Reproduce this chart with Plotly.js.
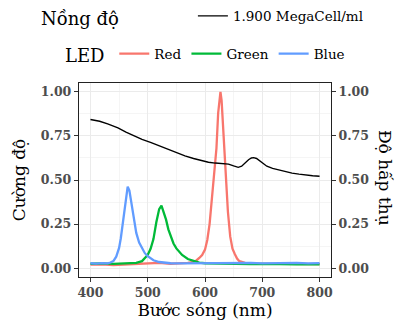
<!DOCTYPE html>
<html>
<head>
<meta charset="utf-8">
<script src="https://cdn.plot.ly/plotly-3.0.1.min.js"></script>
<style>html,body{margin:0;padding:0;background:#fff;}#chart{width:395px;height:322px;}</style>
</head>
<body>
<div id="chart"></div>
<script>
// ---- Data ----
const blueWl = [400,410,420,430,435,440,445,450,453,456,459,462,465,468,471,474,477,480,485,490,495,500,510,520,530,540,560,580,600,620,640,660,680,700,720,740,760,780,800];
const blueVal = [0.028,0.026,0.029,0.027,0.032,0.040,0.065,0.115,0.170,0.245,0.330,0.410,0.462,0.440,0.375,0.305,0.245,0.200,0.145,0.110,0.085,0.068,0.045,0.035,0.030,0.028,0.027,0.028,0.026,0.029,0.027,0.028,0.030,0.027,0.029,0.028,0.030,0.027,0.029];

const greenWl = [400,420,440,460,470,480,490,495,500,505,510,515,520,524,528,532,536,540,545,550,560,570,580,590,600,620,640,660,680,700,720,740,760,780,800];
const greenVal = [0.025,0.027,0.024,0.026,0.025,0.030,0.040,0.055,0.075,0.110,0.165,0.260,0.335,0.355,0.320,0.275,0.220,0.180,0.140,0.112,0.075,0.052,0.040,0.032,0.028,0.026,0.024,0.025,0.023,0.024,0.022,0.023,0.022,0.023,0.022];

const redWl = [400,420,440,460,480,500,510,520,540,560,570,580,585,590,595,600,604,608,612,616,620,623,626,627,629,631,633,636,640,644,648,652,656,660,670,680,700,720,740,760,780,800];
const redVal = [0.020,0.022,0.018,0.021,0.024,0.030,0.032,0.030,0.025,0.027,0.030,0.036,0.044,0.058,0.075,0.105,0.160,0.250,0.390,0.520,0.680,0.880,0.970,1.000,0.950,0.840,0.700,0.520,0.320,0.180,0.110,0.080,0.055,0.040,0.030,0.026,0.025,0.024,0.025,0.023,0.024,0.023];

const absWl = [400,416,430,448,462,477,490,506,520,536,550,565,580,594,606,618,630,641,650,658,664,670,676,681,685,690,694,700,708,718,729,740,752,764,775,788,800];
const absVal = [0.843,0.833,0.818,0.796,0.772,0.749,0.730,0.712,0.694,0.674,0.656,0.637,0.622,0.609,0.601,0.596,0.593,0.590,0.580,0.572,0.578,0.598,0.615,0.625,0.627,0.622,0.612,0.596,0.578,0.566,0.556,0.547,0.539,0.533,0.528,0.524,0.521];

const xTicks = [400,500,600,700,800];
const yTicks = [0,0.25,0.5,0.75,1];
const yTickText = ['0.00','0.25','0.50','0.75','1.00'];
const ledNames = ['Red','Green','Blue'];
const absName = '1.900 MegaCell/ml';

// ---- Styles ----
const FONT = 'DejaVu Serif, Liberation Serif, serif';
const tickFont = {family: FONT, size: 12.5, color: '#4D4D4D', weight: 'bold'};
const gridC = '#EBEBEB';

const traces = [
  {x: redWl, y: redVal, name: ledNames[0], type: 'scatter', mode: 'lines', line: {color: '#F8766D', width: 2.3}, legend: 'legend2'},
  {x: greenWl, y: greenVal, name: ledNames[1], type: 'scatter', mode: 'lines', line: {color: '#00BA38', width: 2.3}, legend: 'legend2'},
  {x: blueWl, y: blueVal, name: ledNames[2], type: 'scatter', mode: 'lines', line: {color: '#619CFF', width: 2.3}, legend: 'legend2'},
  {x: absWl, y: absVal, name: absName, type: 'scatter', mode: 'lines', line: {color: '#000000', width: 1.4}, yaxis: 'y2', legend: 'legend'}
];

const layout = {
  width: 395, height: 322,
  margin: {l: 79, r: 64, t: 83, b: 45, autoexpand: false},
  paper_bgcolor: '#fff', plot_bgcolor: '#fff',
  font: {family: FONT, color: '#000'},
  showlegend: true,
  xaxis: {
    range: [380, 820], tickvals: xTicks, ticktext: xTicks.map(String),
    ticks: 'outside', ticklen: 4, tickcolor: '#333', tickwidth: 1,
    showline: true, mirror: true, linecolor: '#222', linewidth: 1.2,
    showgrid: true, gridcolor: gridC, gridwidth: 1, zeroline: false,
    minor: {dtick: 50, tick0: 0, showgrid: true, gridcolor: gridC, gridwidth: 0.5, ticks: ''},
    tickfont: tickFont,
    title: {text: 'Bước sóng (nm)', font: {family: FONT, size: 17, color: '#000'}, standoff: 3}
  },
  yaxis: {
    range: [-0.05, 1.05], tickvals: yTicks, ticktext: yTickText,
    ticks: 'outside', ticklen: 4, tickcolor: '#333', tickwidth: 1,
    showline: true, mirror: true, linecolor: '#222', linewidth: 1.2,
    showgrid: true, gridcolor: gridC, gridwidth: 1, zeroline: false,
    minor: {dtick: 0.125, tick0: 0, showgrid: true, gridcolor: gridC, gridwidth: 0.5, ticks: ''},
    tickfont: tickFont,
    title: {text: 'Cường độ', font: {family: FONT, size: 17, color: '#000'}, standoff: 10}
  },
  yaxis2: {
    overlaying: 'y', side: 'right', anchor: 'x',
    range: [-0.05, 1.05], tickvals: yTicks, ticktext: yTickText,
    ticks: 'outside', ticklen: 4, tickcolor: '#333', tickwidth: 1,
    showline: false, showgrid: false, zeroline: false,
    tickfont: tickFont
  },
  legend: {
    orientation: 'h', x: 0.452, xanchor: 'left', y: 1.345, yanchor: 'middle',
    font: {family: FONT, size: 13.5, color: '#000'}, bgcolor: 'rgba(0,0,0,0)',
    itemwidth: 30
  },
  legend2: {
    orientation: 'h', x: 0.14, xanchor: 'left', y: 1.15, yanchor: 'middle',
    font: {family: FONT, size: 13.5, color: '#000'}, bgcolor: 'rgba(0,0,0,0)',
    itemwidth: 30, traceorder: 'normal'
  },
  annotations: [
    {text: 'Nồng độ', xref: 'paper', yref: 'paper', x: -0.158, xanchor: 'left', y: 1.33, yanchor: 'middle', showarrow: false, font: {family: FONT, size: 18, color: '#000'}},
    {text: 'LED', xref: 'paper', yref: 'paper', x: -0.065, xanchor: 'left', y: 1.144, yanchor: 'middle', showarrow: false, font: {family: FONT, size: 18, color: '#000'}},
    {text: 'Độ hấp thụ', xref: 'paper', yref: 'paper', x: 1.215, xanchor: 'center', y: 0.51, yanchor: 'middle', textangle: 90, showarrow: false, font: {family: FONT, size: 17, color: '#000'}}
  ]
};

Plotly.newPlot('chart', traces, layout, {staticPlot: true, displayModeBar: false});
</script>
</body>
</html>
